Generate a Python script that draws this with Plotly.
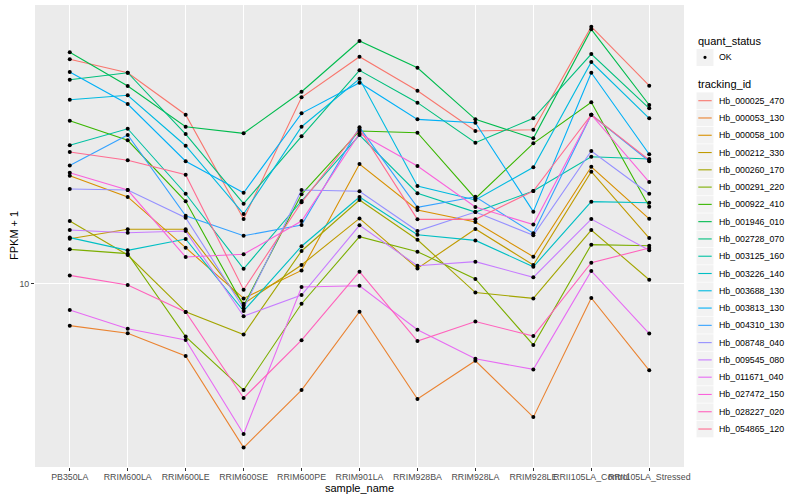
import plotly.graph_objects as go

samples = ["PB350LA", "RRIM600LA", "RRIM600LE", "RRIM600SE", "RRIM600PE", "RRIM901LA",
           "RRIM928BA", "RRIM928LA", "RRIM928LE", "RRII105LA_Control", "RRII105LA_Stressed"]

tracking_ids = ["Hb_000025_470", "Hb_000053_130", "Hb_000058_100", "Hb_000212_330",
                "Hb_000260_170", "Hb_000291_220", "Hb_000922_410", "Hb_001946_010",
                "Hb_002728_070", "Hb_003125_160", "Hb_003226_140", "Hb_003688_130",
                "Hb_003813_130", "Hb_004310_130", "Hb_008748_040", "Hb_009545_080",
                "Hb_011671_040", "Hb_027472_150", "Hb_028227_020", "Hb_054865_120"]

colors = ["#F8766D", "#EA8331", "#D89000", "#C09B00", "#A3A500", "#7CAE00", "#39B600",
          "#00BB4E", "#00BF7D", "#00C1A3", "#00BFC4", "#00BAE0", "#00B0F6", "#35A2FF",
          "#9590FF", "#C77CFF", "#E76BF3", "#FA62DB", "#FF62BC", "#FF6C91"]

# FPKM + 1 per sample (same order as samples)
hb_000025_470 = [31.57, 29.48, 23.78, 13.94, 25.99, 31.99, 26.89, 21.88, 22.02, 37.30, 27.58]
hb_000053_130 = [8.08, 7.77, 6.92, 4.33, 5.81, 8.68, 5.55, 6.75, 5.06, 9.31, 6.43]
hb_000058_100 = [17.40, 15.61, 12.04, 9.29, 10.72, 18.48, 14.60, 13.73, 11.50, 18.22, 13.96]
hb_000212_330 = [12.60, 13.23, 13.23, 9.04, 11.02, 13.99, 10.83, 13.25, 11.02, 17.76, 12.65]
hb_000260_170 = [13.80, 11.60, 8.67, 7.72, 11.84, 15.37, 12.54, 9.57, 9.29, 13.18, 10.22]
hb_000291_220 = [11.94, 11.68, 7.64, 5.81, 9.04, 12.74, 11.80, 10.26, 7.32, 12.23, 12.16]
hb_000922_410 = [23.06, 20.86, 15.27, 8.95, 15.82, 21.88, 21.69, 15.50, 20.54, 25.34, 14.85]
hb_001946_010 = [32.72, 27.54, 22.36, 21.62, 26.75, 34.67, 30.24, 23.22, 21.07, 36.80, 24.99]
hb_002728_070 = [28.44, 29.48, 21.54, 15.08, 21.29, 29.84, 25.29, 20.61, 23.34, 32.44, 24.57]
hb_003125_160 = [20.33, 22.13, 15.87, 10.81, 15.29, 21.43, 15.91, 14.45, 16.09, 19.18, 18.95]
hb_003226_140 = [12.68, 11.88, 12.59, 8.71, 12.13, 15.61, 12.87, 12.50, 10.92, 15.24, 15.16]
hb_003688_130 = [25.67, 26.26, 20.29, 14.31, 22.36, 28.58, 16.51, 15.37, 18.17, 31.14, 23.34]
hb_003813_130 = [29.59, 25.12, 18.74, 15.95, 23.95, 28.01, 23.22, 22.83, 14.48, 29.48, 19.42]
hb_004310_130 = [18.34, 21.43, 14.18, 12.80, 13.52, 22.29, 14.80, 15.63, 12.96, 23.78, 18.74]
hb_008748_040 = [16.26, 16.17, 14.04, 8.83, 16.17, 16.07, 13.11, 14.45, 12.83, 19.75, 15.87]
hb_009545_080 = [13.18, 13.00, 13.11, 8.48, 9.45, 13.50, 10.98, 11.21, 10.35, 13.94, 11.88]
hb_011671_040 = [8.75, 7.95, 7.51, 4.64, 9.85, 9.91, 7.91, 6.82, 6.46, 10.69, 7.76]
hb_027472_150 = [17.67, 16.17, 11.48, 11.64, 13.80, 21.60, 18.29, 14.83, 13.55, 23.78, 16.85]
hb_028227_020 = [10.45, 9.95, 8.67, 5.58, 7.50, 10.65, 7.47, 8.25, 7.66, 11.15, 12.02]
hb_054865_120 = [19.65, 18.83, 17.49, 9.71, 15.19, 22.10, 13.92, 13.92, 16.09, 23.78, 18.86]

series = [hb_000025_470, hb_000053_130, hb_000058_100, hb_000212_330, hb_000260_170,
          hb_000291_220, hb_000922_410, hb_001946_010, hb_002728_070, hb_003125_160,
          hb_003226_140, hb_003688_130, hb_003813_130, hb_004310_130, hb_008748_040,
          hb_009545_080, hb_011671_040, hb_027472_150, hb_028227_020, hb_054865_120]

quant_status = "OK"

FONT = "Liberation Sans, Arial, Helvetica, sans-serif"
W, H = 800, 500
PL, PR, PT, PB = 35, 684, 5, 467  # panel edges in px


def px_x(px):
    return (px - PL) / (PR - PL)


def px_y(py):
    return (PB - py) / (PB - PT)


fig = go.Figure()

for name, col, vals in zip(tracking_ids, colors, series):
    fig.add_trace(go.Scatter(x=samples, y=vals, mode="lines", name=name,
                             line=dict(color=col, width=1.1), showlegend=False))

all_x, all_y = [], []
for vals in series:
    all_x += samples
    all_y += vals
fig.add_trace(go.Scatter(x=all_x, y=all_y, mode="markers", name=quant_status,
                         marker=dict(color="black", size=4.0), showlegend=False))

shapes = []
annotations = []

# axis titles
annotations.append(dict(x=px_x(359.5), y=px_y(488), xref="paper", yref="paper", text="sample_name",
                        showarrow=False, xanchor="center", yanchor="middle",
                        font=dict(family=FONT, size=11, color="black")))
annotations.append(dict(x=px_x(14), y=px_y(236), xref="paper", yref="paper", text="FPKM + 1",
                        showarrow=False, xanchor="center", yanchor="middle", textangle=-90,
                        font=dict(family=FONT, size=11, color="black")))

# legend: quant_status
annotations.append(dict(x=px_x(696), y=px_y(40.7), xref="paper", yref="paper", text="quant_status",
                        showarrow=False, xanchor="left", yanchor="middle",
                        font=dict(family=FONT, size=11, color="black")))
shapes.append(dict(type="rect", xref="paper", yref="paper", x0=px_x(696.5), x1=px_x(713.5),
                   y0=px_y(49), y1=px_y(66), fillcolor="#F2F2F2", line=dict(width=0), layer="below"))
shapes.append(dict(type="circle", xref="paper", yref="paper", x0=px_x(703.4), x1=px_x(706.6),
                   y0=px_y(55.7), y1=px_y(58.9), fillcolor="black", line=dict(width=0)))
annotations.append(dict(x=px_x(716.5), y=px_y(57.3), xref="paper", yref="paper", text=quant_status,
                        showarrow=False, xanchor="left", yanchor="middle",
                        font=dict(family=FONT, size=8.8, color="black")))

# legend: tracking_id
annotations.append(dict(x=px_x(696), y=px_y(84.3), xref="paper", yref="paper", text="tracking_id",
                        showarrow=False, xanchor="left", yanchor="middle",
                        font=dict(family=FONT, size=11, color="black")))
step = 17.28
for i, (name, col) in enumerate(zip(tracking_ids, colors)):
    cy = 100.7 + i * step
    shapes.append(dict(type="rect", xref="paper", yref="paper", x0=px_x(696.5), x1=px_x(713.5),
                       y0=px_y(cy - 8.3), y1=px_y(cy + 8.3), fillcolor="#F2F2F2",
                       line=dict(width=0), layer="below"))
    shapes.append(dict(type="line", xref="paper", yref="paper", x0=px_x(698.3), x1=px_x(711.7),
                       y0=px_y(cy), y1=px_y(cy), line=dict(color=col, width=1.1)))
    annotations.append(dict(x=px_x(716.7), y=px_y(cy), xref="paper", yref="paper", text=name,
                            showarrow=False, xanchor="left", yanchor="middle",
                            font=dict(family=FONT, size=8.8, color="black")))

fig.update_layout(
    width=W, height=H, autosize=False,
    margin=dict(l=PL, r=W - PR, t=PT, b=H - PB, pad=0),
    paper_bgcolor="white", plot_bgcolor="#EBEBEB",
    font=dict(family=FONT, size=11, color="black"),
    showlegend=False,
    shapes=shapes, annotations=annotations,
)

fig.update_xaxes(
    type="category", categoryorder="array", categoryarray=samples,
    range=[-0.6, 10.6], tickmode="array", tickvals=samples, ticktext=samples,
    tickangle=0, showgrid=True, gridcolor="white", gridwidth=1.1, zeroline=False,
    showline=False, ticks="outside", ticklen=3, tickcolor="#333333", tickwidth=1,
    tickfont=dict(family=FONT, size=8.8, color="#4D4D4D"), automargin=False,
    ticklabelstandoff=-2,
)

fig.update_yaxes(
    type="log", range=[0.5933, 1.62], tickmode="array", tickvals=[10], ticktext=["10"],
    showgrid=True, gridcolor="white", gridwidth=1.1, zeroline=False, showline=False,
    ticks="outside", ticklen=3, tickcolor="#333333", tickwidth=1,
    tickfont=dict(family=FONT, size=8.8, color="#4D4D4D"), automargin=False,
)

fig.write_html("out.html", config={"displayModeBar": False},
               post_script="document.body.style.margin='0px';document.body.style.overflow='hidden';")
